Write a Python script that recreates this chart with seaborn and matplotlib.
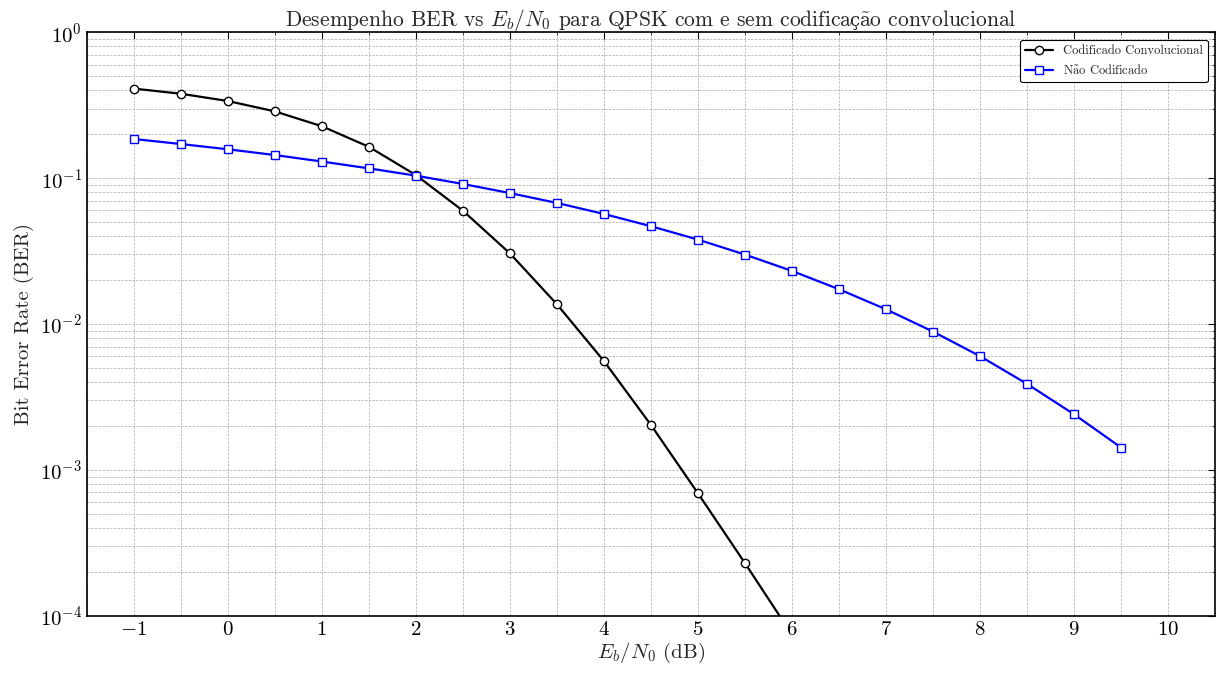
import numpy as np
import pandas as pd
import matplotlib
matplotlib.use("Agg")
import matplotlib.pyplot as plt
from matplotlib.ticker import MultipleLocator
from matplotlib.offsetbox import TextArea, HPacker, AnchoredOffsetbox
import seaborn as sns

# Data
ebn0_coded = [-1.0, -0.5, 0.0, 0.5, 1.0, 1.5, 2.0, 2.5, 3.0, 3.5, 4.0, 4.5, 5.0, 5.5, 6.0]
ber_coded = [0.411, 0.379, 0.338, 0.287, 0.227, 0.164, 0.105, 0.0598, 0.0305,
             0.01365, 0.00557, 0.00203, 0.00069, 0.000229, 0.000074]

ebn0_uncoded = [-1.0, -0.5, 0.0, 0.5, 1.0, 1.5, 2.0, 2.5, 3.0, 3.5, 4.0, 4.5, 5.0,
                5.5, 6.0, 6.5, 7.0, 7.5, 8.0, 8.5, 9.0, 9.5]
ber_uncoded = [0.1855, 0.1714, 0.1577, 0.144, 0.130, 0.1167, 0.104, 0.0912, 0.079,
               0.0676, 0.0568, 0.0468, 0.0379, 0.0299, 0.0231, 0.0173, 0.0126,
               0.00886, 0.00601, 0.00388, 0.0024, 0.00142]

# cmr10 lacks ã and ç: ã via mathtext accent, ç from DejaVu Serif
A_TILDE = r"$\mathrm{\tilde{a}}$"
label_coded = "Codificado Convolucional"
label_uncoded = "N" + A_TILDE + "o Codificado"
title_parts = [r"Desempenho BER vs $E_b/N_0$ para QPSK com e sem codifica",
               "ç",
               A_TILDE + "o convolucional"]
xlabel = r"$E_b/N_0$ (dB)"
ylabel = "Bit Error Rate (BER)"

sns.set_style("white")
plt.rcParams["font.family"] = ["cmr10", "DejaVu Serif"]
plt.rcParams["mathtext.fontset"] = "cm"
plt.rcParams["axes.formatter.use_mathtext"] = True
plt.rcParams["axes.unicode_minus"] = True
plt.rcParams["xtick.direction"] = "in"
plt.rcParams["ytick.direction"] = "in"
plt.rcParams["xtick.top"] = True
plt.rcParams["ytick.right"] = True

df_c = pd.DataFrame({"x": ebn0_coded, "y": ber_coded})
df_u = pd.DataFrame({"x": ebn0_uncoded, "y": ber_uncoded})

fig = plt.figure(figsize=(12.17, 6.75), dpi=100)
ax = fig.add_axes([0.0712, 0.0878, 0.9274, 0.8644])

sns.lineplot(data=df_c, x="x", y="y", ax=ax, color="black", linewidth=1.6,
             marker="o", markersize=6, markerfacecolor="white",
             markeredgecolor="black", markeredgewidth=1.0, label=label_coded)
sns.lineplot(data=df_u, x="x", y="y", ax=ax, color="blue", linewidth=1.6,
             marker="s", markersize=6, markerfacecolor="white",
             markeredgecolor="blue", markeredgewidth=1.0, label=label_uncoded)

ax.set_yscale("log")
ax.set_xlim(-1.5, 10.5)
ax.set_ylim(1e-4, 1)
ax.xaxis.set_major_locator(MultipleLocator(1))
ax.xaxis.set_minor_locator(MultipleLocator(0.5))

ax.grid(True, which="both", linestyle=(0, (3, 1.5)), linewidth=0.6,
        color="#b5b5b5")
ax.set_axisbelow(True)

for s in ax.spines.values():
    s.set_color("black")
    s.set_linewidth(1.2)

ax.tick_params(axis="both", which="major", labelsize=15, length=5, width=0.8,
               direction="in", top=True, right=True, colors="black")
ax.tick_params(axis="both", which="minor", length=2.5, width=0.6,
               direction="in", top=True, right=True)

# Title assembled from text pieces so that ç can come from another font
tsize = 15.5
area1 = TextArea(title_parts[0], textprops=dict(fontsize=tsize, family=["cmr10"]))
area2 = TextArea(title_parts[1], textprops=dict(fontsize=tsize * 0.84, family=["DejaVu Serif"]))
area3 = TextArea(title_parts[2], textprops=dict(fontsize=tsize, family=["cmr10"]))
inner = HPacker(children=[area2, area3], align="baseline", pad=0, sep=0)
packed = HPacker(children=[area1, inner], align="baseline", pad=0, sep=-3)
title_box = AnchoredOffsetbox(loc="lower center", child=packed, pad=0,
                              borderpad=-0.1, prop=dict(size=10), frameon=False,
                              bbox_to_anchor=(0.5, 1.0),
                              bbox_transform=ax.transAxes)
ax.add_artist(title_box)

ax.set_xlabel(xlabel, fontsize=15, labelpad=2)
ax.set_ylabel(ylabel, fontsize=15, labelpad=4)

leg = ax.legend(loc="upper right", fontsize=9, frameon=True, fancybox=True,
                framealpha=1.0, edgecolor="black", borderaxespad=0.6,
                handlelength=2.2)
leg.get_frame().set_linewidth(0.8)

fig.savefig("out.png", dpi=100)
